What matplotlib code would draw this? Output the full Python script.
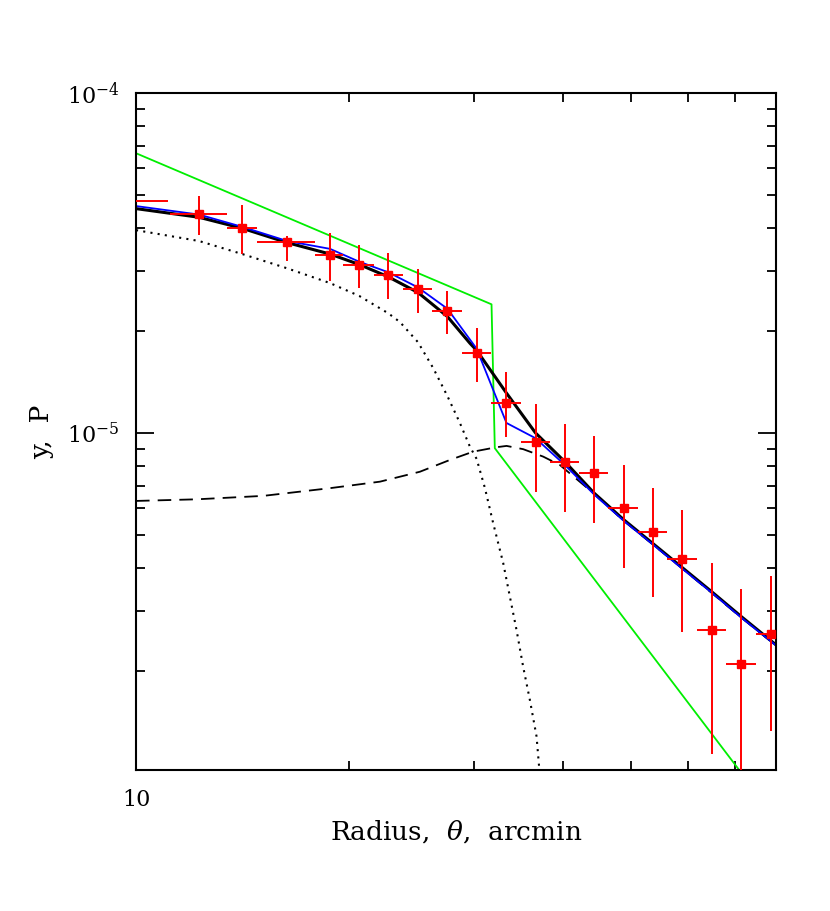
import numpy as np
import matplotlib
matplotlib.use('Agg')
import matplotlib.pyplot as plt
from matplotlib.ticker import LogLocator, FixedLocator, FixedFormatter, NullFormatter

# Fonts
plt.rcParams['font.family'] = 'DejaVu Serif'
plt.rcParams['mathtext.fontset'] = 'dejavuserif'

# Data points (radius in arcmin, y)
r_pts  = [9.6, 12.27, 14.12, 16.34, 18.78, 20.65, 22.69, 24.99, 27.50, 30.24,
          33.32, 36.62, 40.28, 44.31, 48.80, 53.67, 58.96, 64.92, 71.50, 78.64]
r_lo   = [8.3, 11.15, 13.42, 14.80, 17.88, 19.61, 21.64, 23.80, 26.17, 28.80,
          31.68, 34.88, 38.38, 42.22, 46.40, 51.11, 56.17, 61.83, 68.10, 74.95]
r_hi   = [11.10, 13.42, 14.80, 17.88, 19.61, 21.64, 23.80, 26.17, 28.80, 31.68,
          34.88, 38.38, 42.22, 46.40, 51.11, 56.17, 61.83, 68.10, 74.95, 82.5]
y_pts  = [4.81e-5, 4.42e-5, 4.02e-5, 3.64e-5, 3.33e-5, 3.11e-5, 2.91e-5, 2.65e-5, 2.29e-5, 1.72e-5,
          1.223e-5, 9.43e-6, 8.24e-6, 7.64e-6, 6.03e-6, 5.10e-6, 4.26e-6, 2.63e-6, 2.09e-6, 2.57e-6]
y_hi   = [5.3e-5, 4.99e-5, 4.68e-5, 3.80e-5, 3.87e-5, 3.56e-5, 3.38e-5, 3.03e-5, 2.62e-5, 2.03e-5,
          1.514e-5, 1.217e-5, 1.06e-5, 9.82e-6, 8.05e-6, 6.90e-6, 5.94e-6, 4.14e-6, 3.48e-6, 3.80e-6]
y_lo   = [4.3e-5, 3.82e-5, 3.36e-5, 3.21e-5, 2.79e-5, 2.67e-5, 2.47e-5, 2.25e-5, 1.95e-5, 1.415e-5,
          9.75e-6, 6.69e-6, 5.84e-6, 5.45e-6, 4.0e-6, 3.29e-6, 2.59e-6, 1.135e-6, 7.0e-7, 1.33e-6]

# Total model (black)
r_tot = [10.0, 12.27, 14.12, 16.34, 18.78, 20.65, 22.69, 24.99, 27.50, 29.59,
         30.24, 33.32, 36.62, 40.28, 44.31, 48.80, 53.67, 58.96, 64.92, 71.50, 80.0]
y_tot = [4.57e-5, 4.31e-5, 4.00e-5, 3.63e-5, 3.36e-5, 3.13e-5, 2.88e-5, 2.59e-5, 2.20e-5, 1.836e-5,
         1.75e-5, 1.31e-5, 1.00e-5, 8.23e-6, 6.65e-6, 5.55e-6, 4.72e-6, 4.02e-6, 3.41e-6, 2.88e-6, 2.38e-6]

# Binned model (blue)
r_bin = [10.0, 12.27, 14.12, 16.34, 18.78, 20.65, 22.69, 24.99, 27.50, 30.24,
         33.32, 36.62, 40.28, 44.31, 48.80, 53.67, 58.96, 64.92, 71.50, 78.64, 80.0]
y_bin = [4.65e-5, 4.39e-5, 4.04e-5, 3.67e-5, 3.48e-5, 3.19e-5, 2.97e-5, 2.68e-5, 2.32e-5, 1.77e-5,
         1.07e-5, 9.65e-6, 8.05e-6, 6.59e-6, 5.51e-6, 4.69e-6, 3.99e-6, 3.39e-6, 2.86e-6, 2.44e-6, 2.37e-6]

# Broken power law (green)
r_pl = [10.0, 31.74, 32.08, 80.0]
y_pl = [6.65e-5, 2.39e-5, 9.02e-6, 7.34e-7]

# Inner component (dotted)
r_in = [10.0, 12.27, 14.12, 16.34, 18.78, 20.65, 22.69, 23.57, 24.99, 26.27, 27.52, 28.64,
        29.59, 30.24, 31.07, 31.91, 32.97, 33.69, 34.43, 35.18, 35.95, 36.74, 37.05, 37.38]
y_in = [3.95e-5, 3.67e-5, 3.36e-5, 3.05e-5, 2.76e-5, 2.53e-5, 2.25e-5, 2.12e-5, 1.85e-5, 1.55e-5, 1.28e-5, 1.07e-5,
        9.11e-6, 8.39e-6, 6.88e-6, 5.43e-6, 4.14e-6, 3.30e-6, 2.63e-6, 2.05e-6, 1.64e-6, 1.28e-6, 1.04e-6, 8.9e-7]

# Outer component (dashed)
r_out = [10.0, 12.18, 15.12, 18.78, 22.09, 25.15, 27.73, 29.90, 32.27, 33.33, 35.18,
         37.54, 39.63, 44.31, 48.80, 58.96, 71.50, 80.0]
y_out = [6.31e-6, 6.38e-6, 6.53e-6, 6.88e-6, 7.19e-6, 7.69e-6, 8.33e-6, 8.81e-6, 9.08e-6, 9.16e-6, 8.96e-6,
         8.52e-6, 8.05e-6, 6.62e-6, 5.51e-6, 4.00e-6, 2.86e-6, 2.37e-6]

fig = plt.figure(figsize=(8.3, 9.11), dpi=100)
ax = fig.add_axes([0.1639, 0.1548, 0.7711, 0.7431])

# Curves
ax.plot(r_in, y_in, color='black', lw=1.5, linestyle=(0, (1, 2.5)))
ax.plot(r_out, y_out, color='black', lw=1.3, linestyle=(0, (7.5, 4.5)))
ax.plot(r_pl, y_pl, color='#00ee00', lw=1.3)
ax.plot(r_tot, y_tot, color='black', lw=2.2)
ax.plot(r_bin, y_bin, color='blue', lw=1.3)

# Data with error bars
r_pts = np.array(r_pts)
y_pts = np.array(y_pts)
xerr = [r_pts - np.array(r_lo), np.array(r_hi) - r_pts]
yerr = [y_pts - np.array(y_lo), np.array(y_hi) - y_pts]
ax.errorbar(r_pts, y_pts, xerr=xerr, yerr=yerr, fmt='s', color='red', ms=5.5,
            elinewidth=1.4, capsize=0, zorder=5)

# Axes
ax.set_xscale('log')
ax.set_yscale('log')
ax.set_xlim(10, 80)
ax.set_ylim(1.02e-6, 1e-4)

ax.xaxis.set_major_locator(FixedLocator([10]))
ax.xaxis.set_major_formatter(FixedFormatter(['10']))
ax.xaxis.set_minor_locator(FixedLocator([20, 30, 40, 50, 60, 70, 80]))
ax.xaxis.set_minor_formatter(NullFormatter())
ax.yaxis.set_major_locator(FixedLocator([1e-5, 1e-4]))
ax.yaxis.set_major_formatter(FixedFormatter([r'$10^{-5}$', r'$10^{-4}$']))
ax.yaxis.set_minor_locator(LogLocator(base=10, subs=np.arange(2, 10)))
ax.yaxis.set_minor_formatter(NullFormatter())

ax.tick_params(which='both', direction='in', top=True, right=True, width=1.3, labelsize=16)
ax.tick_params(which='major', length=13)
ax.tick_params(which='minor', length=6.5)
ax.tick_params(axis='x', which='major', pad=14)
ax.tick_params(axis='y', which='major', pad=12)
for s in ax.spines.values():
    s.set_linewidth(1.5)

ax.set_xlabel(r'Radius,  $\theta$,  arcmin', fontsize=19, labelpad=5)
ax.set_ylabel('y,  P', fontsize=19, labelpad=9)

fig.savefig('out.png', dpi=100)
